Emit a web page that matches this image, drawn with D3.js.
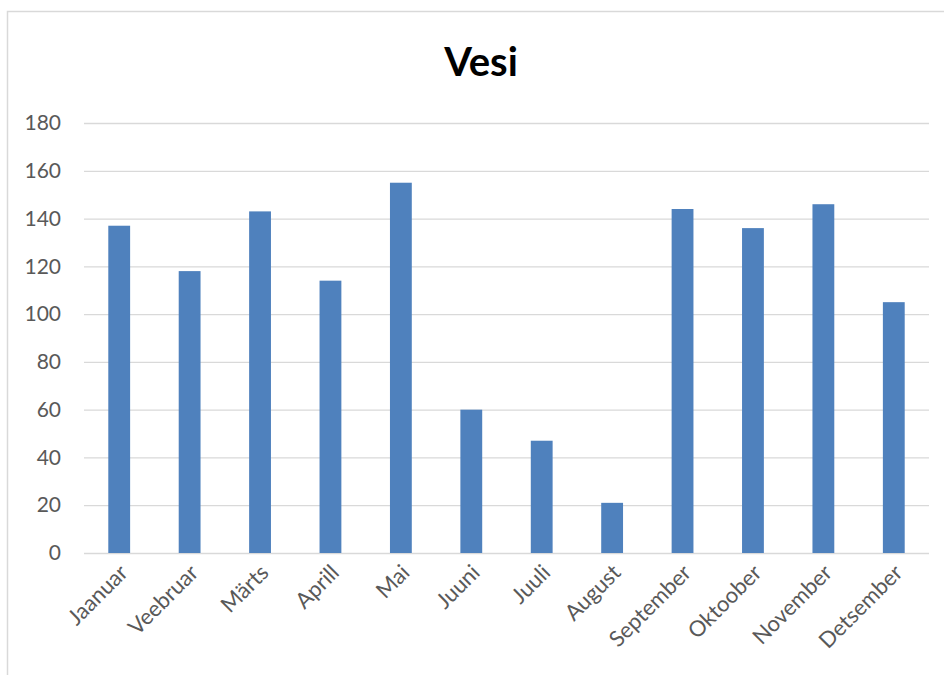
<!DOCTYPE html>
<html>
<head>
<meta charset="utf-8">
<script src="https://cdn.jsdelivr.net/npm/d3@7"></script>
<style>
  body { margin: 0; background: #fff; }
  text { font-family: Lato, "Open Sans", "Noto Sans", sans-serif; }
</style>
</head>
<body>
<div id="chart"></div>
<script>
// data
var months = ["Jaanuar", "Veebruar", "Märts", "Aprill", "Mai", "Juuni", "Juuli", "August", "September", "Oktoober", "November", "Detsember"];
var values = [137, 118, 143, 114, 155, 60, 47, 21, 144, 136, 146, 105];
var y_ticks = [0, 20, 40, 60, 80, 100, 120, 140, 160, 180];

const chart_width = 944, chart_height = 675;
const plot_left = 84, plot_right = 929, plot_top = 123, plot_bottom = 553;
const font = "Lato, 'Open Sans', sans-serif";

var svg = d3.select("#chart")
	.append("svg")
	.attr("width", chart_width)
	.attr("height", chart_height);

// chart frame
svg.append("rect")
	.attr("x", 7.5).attr("y", 11.5)
	.attr("width", 960).attr("height", 700)
	.attr("fill", "none")
	.attr("stroke", "#d9d9d9")
	.attr("stroke-width", 1.5);

// title
svg.append("text")
	.attr("x", 481).attr("y", 76)
	.attr("text-anchor", "middle")
	.attr("font-size", 40)
	.attr("font-weight", "bold")
	.attr("fill", "#000")
	.text("Vesi");

// scales
const x_scale = d3.scaleBand()
	.domain(months)
	.range([plot_left, plot_right])
	.paddingInner(0.69)
	.paddingOuter(0.345);

const y_scale = d3.scaleLinear()
	.domain([0, 180])
	.range([plot_bottom, plot_top]);

// gridlines + y labels
var y_axis = svg.append("g")
	.attr("transform", "translate(" + plot_left + ",0)")
	.call(d3.axisLeft(y_scale).tickValues(y_ticks).tickSize(-(plot_right - plot_left)).tickPadding(23));
y_axis.select(".domain").remove();
y_axis.selectAll(".tick line").attr("stroke", "#d9d9d9").attr("stroke-width", 1.3);
y_axis.selectAll(".tick text")
	.attr("font-size", 21)
	.attr("fill", "#595959")
	.style("font-family", font);

// bars
svg.selectAll("rect.bar")
	.data(values)
	.enter()
	.append("rect")
	.attr("class", "bar")
	.attr("x", (d, i) => x_scale(months[i]))
	.attr("y", (d) => y_scale(d))
	.attr("width", x_scale.bandwidth())
	.attr("height", (d) => plot_bottom - y_scale(d))
	.attr("fill", "#4f81bd");

// x labels
var x_axis = svg.append("g")
	.attr("transform", "translate(0," + plot_bottom + ")")
	.call(d3.axisBottom(x_scale).tickSize(0).tickPadding(0));
x_axis.select(".domain").remove();
x_axis.selectAll(".tick text")
	.attr("font-size", 22)
	.attr("fill", "#595959")
	.attr("text-anchor", "end")
	.attr("dy", 0)
	.attr("transform", "translate(10,21) rotate(-45)")
	.style("font-family", font);
</script>
</body>
</html>
